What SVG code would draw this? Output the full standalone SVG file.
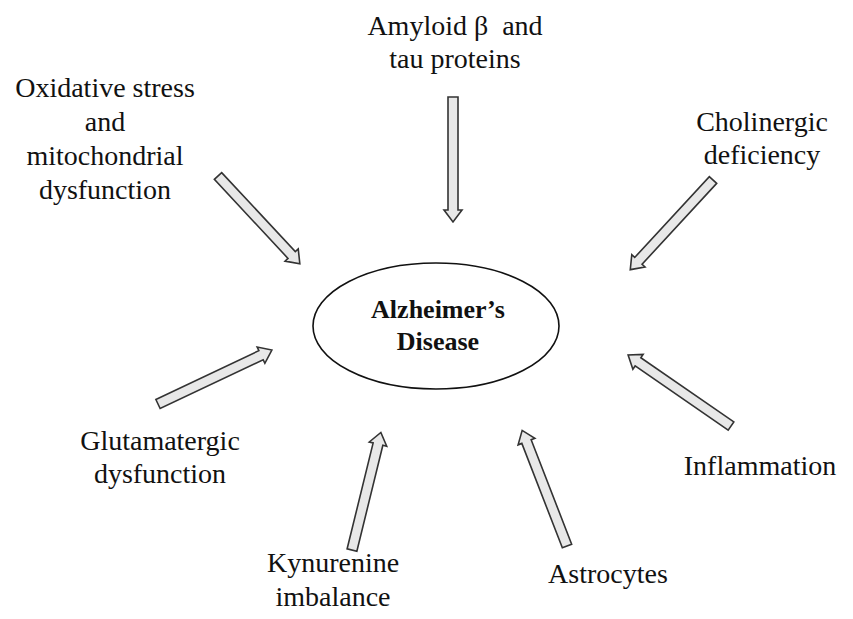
<svg xmlns="http://www.w3.org/2000/svg" width="853" height="619" viewBox="0 0 853 619">
<defs>
<style>
.lbl{font-family:"Liberation Serif","Times New Roman",serif;font-size:28px;fill:#111;text-anchor:middle}
.ttl{font-family:"Liberation Serif","Times New Roman",serif;font-size:26px;font-weight:bold;fill:#111;text-anchor:middle}
.arr{fill:#e8e8e8;stroke:#333;stroke-width:1.6;stroke-linejoin:miter}
</style>
</defs>
<rect width="853" height="619" fill="#fff"/>
<g id="center">
<ellipse cx="436" cy="326" rx="123" ry="63" fill="#fff" stroke="#111" stroke-width="1.6"/>
<text class="ttl" x="438" y="318">Alzheimer’s</text>
<text class="ttl" x="438" y="350">Disease</text>
</g>
<g id="amyloid"><text class="lbl" x="455" y="35">Amyloid β&#160; and</text><text class="lbl" x="455" y="68">tau proteins</text></g>
<g id="oxidative"><text class="lbl" x="105" y="97">Oxidative stress</text><text class="lbl" x="105" y="131">and</text><text class="lbl" x="105" y="165">mitochondrial</text><text class="lbl" x="105" y="199">dysfunction</text></g>
<g id="cholinergic"><text class="lbl" x="762" y="131">Cholinergic</text><text class="lbl" x="762" y="164">deficiency</text></g>
<g id="glutamatergic"><text class="lbl" x="160" y="450">Glutamatergic</text><text class="lbl" x="160" y="483">dysfunction</text></g>
<g id="inflammation"><text class="lbl" x="760" y="475">Inflammation</text></g>
<g id="kynurenine"><text class="lbl" x="333" y="572">Kynurenine</text><text class="lbl" x="333" y="606">imbalance</text></g>
<g id="astrocytes"><text class="lbl" x="608" y="583">Astrocytes</text></g>
<g id="connectors">
<path class="arr" transform="translate(218,176) rotate(47)" d="M0,-5H108V-9L120,0L108,9V5H0Z"/>
<path class="arr" transform="translate(453,97) rotate(90)" d="M0,-5H113V-9L125,0L113,9V5H0Z"/>
<path class="arr" transform="translate(713,180) rotate(132.7)" d="M0,-5H110V-9L122,0L110,9V5H0Z"/>
<path class="arr" transform="translate(158,404) rotate(-25.35)" d="M0,-5H114V-9L126,0L114,9V5H0Z"/>
<path class="arr" transform="translate(352,550) rotate(-76.2)" d="M0,-5H109V-9L121,0L109,9V5H0Z"/>
<path class="arr" transform="translate(567,546) rotate(-111.2)" d="M0,-5H112V-9L124,0L112,9V5H0Z"/>
<path class="arr" transform="translate(731,426) rotate(-145.4)" d="M0,-5H113V-9L125,0L113,9V5H0Z"/>
</g>
</svg>
